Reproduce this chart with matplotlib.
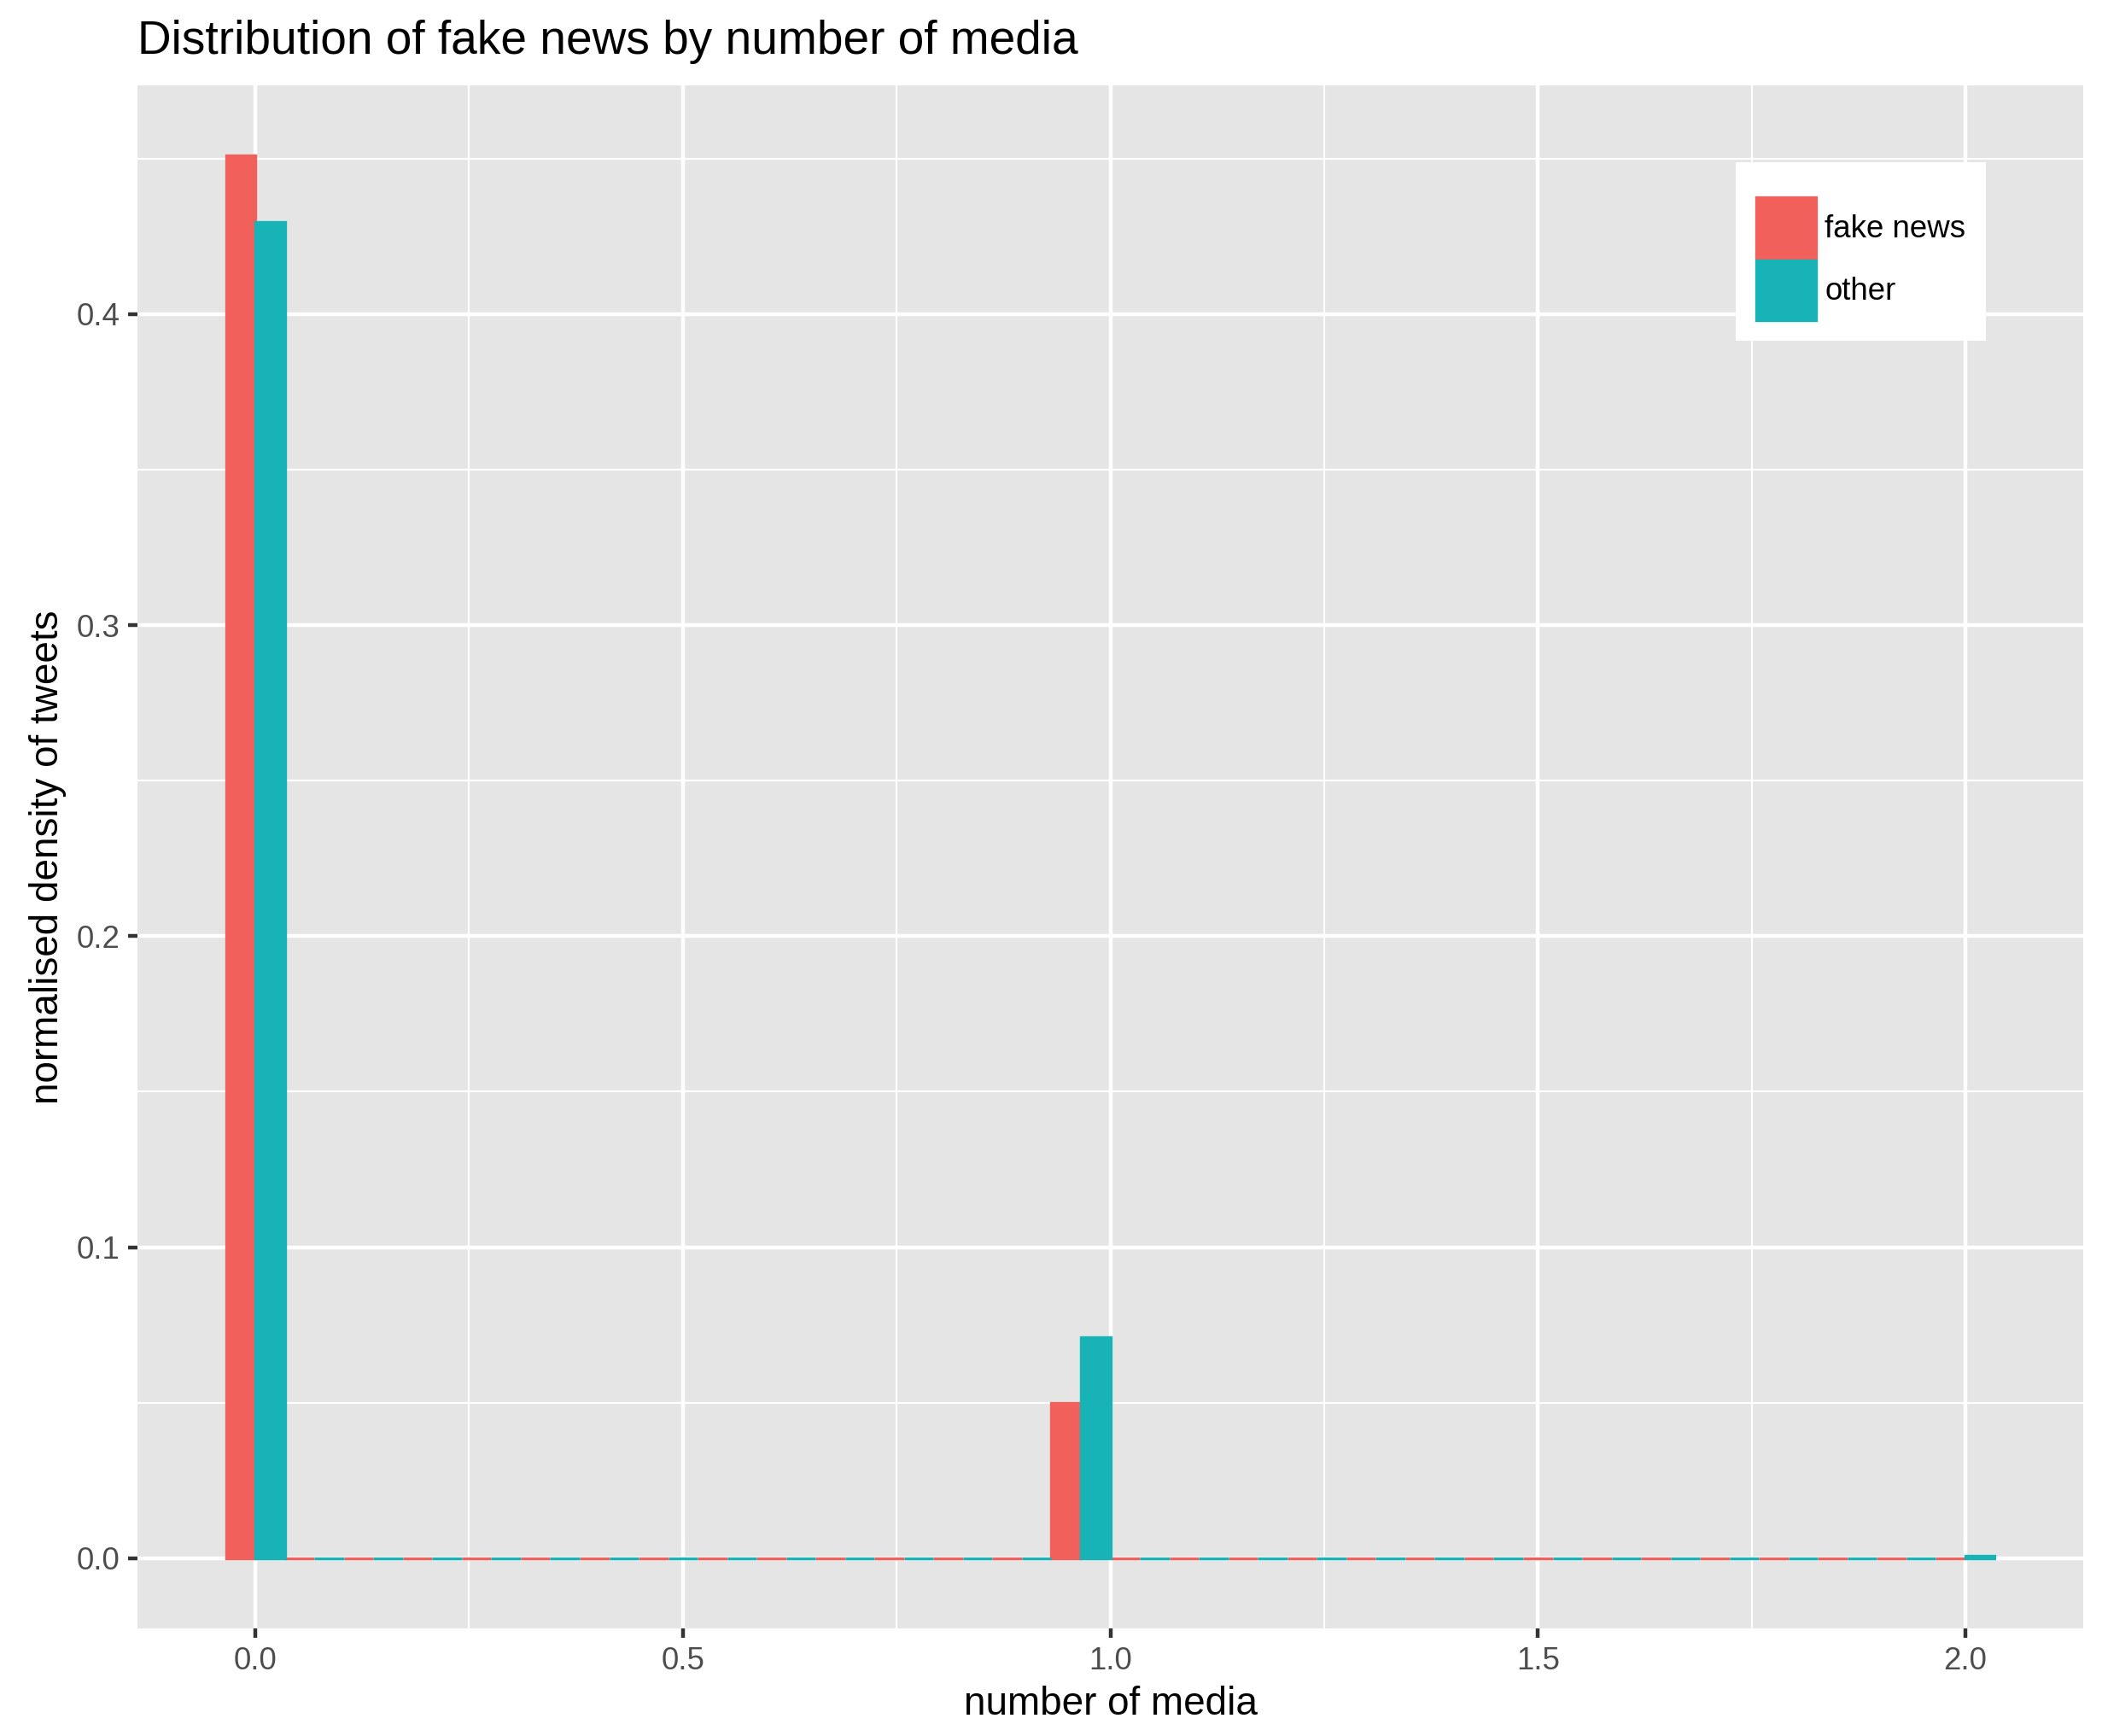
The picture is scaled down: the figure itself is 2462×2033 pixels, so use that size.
import numpy as np
import matplotlib
matplotlib.use("Agg")
from matplotlib import pyplot as plt

# histogram of number of media per tweet, 30 bins over [0, 2], dodged
groups = ["fake news", "other"]
fake_news = [0.451, 0, 0, 0, 0, 0, 0, 0, 0, 0,
             0, 0, 0, 0, 0.0499, 0, 0, 0, 0, 0,
             0, 0, 0, 0, 0, 0, 0, 0, 0, 0]
other = [0.4297, 0, 0, 0, 0, 0, 0, 0, 0, 0,
         0, 0, 0, 0, 0.0710, 0, 0, 0, 0, 0,
         0, 0, 0, 0, 0, 0, 0, 0, 0, 0.0008]
x_range = (0.0, 2.0)
x_ticks = [0.0, 0.5, 1.0, 1.5, 2.0]
y_ticks = [0.0, 0.1, 0.2, 0.3, 0.4]
colors = ["#F2605C", "#18B3B7"]

plt.rcParams["font.family"] = ["Liberation Sans", "DejaVu Sans"]

fig = plt.figure(figsize=(2462 / 300, 2033 / 300), dpi=300)
ax = fig.add_axes([0.0654, 0.0620, 0.9911 - 0.0654, 0.9508 - 0.0620])
ax.set_facecolor("#E5E5E5")

n_bins = len(fake_news)
bw = (x_range[1] - x_range[0]) / (n_bins - 1)
centers = x_range[0] + np.arange(n_bins) * bw

for vals, clr, off, lab in [(fake_news, colors[0], -bw / 2, groups[0]),
                            (other, colors[1], 0.0, groups[1])]:
    ax.bar(centers + off, vals, width=bw / 2, align="edge", color=clr,
           edgecolor=clr, linewidth=0.8, label=lab, zorder=3)

# ggplot style expansion
lo, hi = centers[0] - bw / 2, centers[-1] + bw / 2
ax.set_xlim(lo - 0.05 * (hi - lo), hi + 0.05 * (hi - lo))
ymax = max(max(fake_news), max(other))
ax.set_ylim(-0.05 * ymax, ymax * 1.05)

ax.set_xticks(x_ticks)
ax.set_xticklabels(["%.1f" % v for v in x_ticks])
ax.set_yticks(y_ticks)
ax.set_yticklabels(["%.1f" % v for v in y_ticks])
ax.set_xticks([0.25, 0.75, 1.25, 1.75], minor=True)
ax.set_yticks([0.05, 0.15, 0.25, 0.35, 0.45], minor=True)
ax.grid(which="major", color="white", linewidth=1.07, zorder=0)
ax.grid(which="minor", color="white", linewidth=0.53, zorder=0)
ax.set_axisbelow(True)
ax.tick_params(which="major", length=2.75, width=1.07, color="#333333",
               labelcolor="#4D4D4D", labelsize=8.8, pad=2.2)
ax.tick_params(which="minor", length=0)
for s in ax.spines.values():
    s.set_visible(False)

ax.set_xlabel("number of media", fontsize=11, labelpad=2.75)
ax.set_ylabel("normalised density of tweets", fontsize=11, labelpad=2.75)
ax.set_title("Distribution of fake news by number of media", fontsize=13.2,
             loc="left", pad=8.9)

leg = ax.legend(loc="upper right", bbox_to_anchor=(0.95, 0.95),
                borderaxespad=0, fontsize=8.8, frameon=True, fancybox=False,
                framealpha=1, edgecolor="white", facecolor="white",
                handlelength=1.91, handleheight=2.59, handletextpad=0.27,
                labelspacing=0.08, borderpad=0.65, title=" ",
                title_fontsize=3.5)
leg.get_frame().set_linewidth(0)

fig.savefig("out.png", dpi=300, facecolor="white")
